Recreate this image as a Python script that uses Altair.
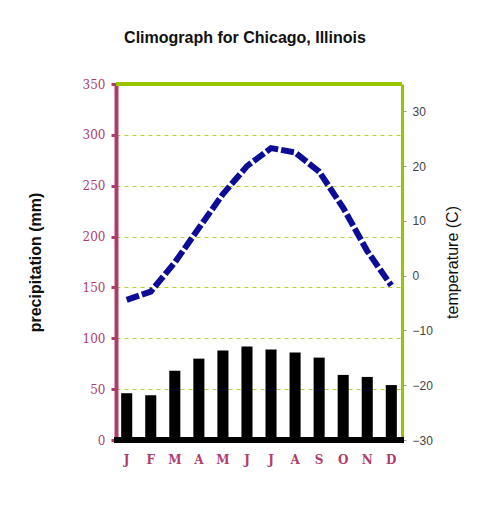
import altair as alt
import pandas as pd

months = ["Jan", "Feb", "Mar", "Apr", "May", "Jun",
          "Jul", "Aug", "Sep", "Oct", "Nov", "Dec"]
precip_mm = [46, 44, 68, 80, 88, 92, 89, 86, 81, 64, 62, 54]
temp_c = [-4.4, -2.9, 2.4, 8.7, 14.9, 20.0, 23.3, 22.5, 19.0, 12.4, 4.5, -1.8]
precip_ticks = [0, 50, 100, 150, 200, 250, 300, 350]
temp_ticks = [-30, -20, -10, 0, 10, 20, 30]

df = pd.DataFrame({"month": months, "precip": precip_mm, "temp": temp_c})

MAROON = "#b03c6c"
GREEN = "#99c400"
W, H = 286, 356

x_enc = alt.X(
    "month:N", sort=months,
    scale=alt.Scale(paddingInner=0.54, paddingOuter=0.215),
    axis=alt.Axis(title=None, labelExpr="substring(datum.label, 0, 1)", labelAngle=0,
                  domain=False, ticks=False, labelFont="DejaVu Serif", labelFontSize=12,
                  labelFontWeight="bold", labelColor=MAROON, labelPadding=14),
)

base = alt.Chart(df)

bars = base.mark_bar(color="black").encode(
    x=x_enc,
    y=alt.Y("precip:Q", scale=alt.Scale(domain=[0, 350], nice=False),
            axis=alt.Axis(orient="left", values=precip_ticks, title="precipitation (mm)",
                          grid=True, gridColor="#b0d030", gridDash=[4, 4], gridWidth=1,
                          domainColor=MAROON, domainWidth=4, tickColor=MAROON, tickWidth=3,
                          tickSize=5, labelColor=MAROON, labelFont="DejaVu Serif",
                          labelFontSize=12, labelPadding=6,
                          titleFont="Liberation Sans", titleFontSize=16, titleFontWeight="bold",
                          titleColor="#111", titlePadding=39)),
)

line = base.mark_line(color="#0c0c96", strokeWidth=6, strokeDash=[13, 3]).encode(
    x=x_enc,
    y=alt.Y("temp:Q", scale=alt.Scale(domain=[-30, 35], nice=False),
            axis=alt.Axis(orient="right", values=temp_ticks, title="temperature (C)",
                          grid=False, domainColor=GREEN, domainWidth=3, tickColor="#999",
                          tickSize=4, labelColor="#444", labelFont="Liberation Sans",
                          labelFontSize=12, labelPadding=6, titleAngle=270,
                          titleFont="Liberation Sans", titleFontSize=16, titleFontWeight="normal",
                          titleColor="#111", titlePadding=28)),
)

top_rule = alt.Chart(df).mark_rule(color=GREEN, strokeWidth=3).encode(
    x=alt.value(0), x2=alt.value(W), y=alt.value(0))
bottom_rule = alt.Chart(df).mark_rule(color="black", strokeWidth=5).encode(
    x=alt.value(-2), x2=alt.value(W + 2), y=alt.value(H))

chart = alt.layer(bars, line, top_rule, bottom_rule).resolve_scale(y="independent").properties(
    width=W, height=H,
    padding={"left": 19, "top": 22, "right": 5, "bottom": 5},
    title=alt.TitleParams("Climograph for Chicago, Illinois", font="Liberation Sans",
                          fontSize=16, fontWeight="bold", color="#111", anchor="middle",
                          offset=32, dx=-14),
).configure_view(stroke=None)

chart.save("out.html", embed_options={"renderer": "svg", "actions": False})
